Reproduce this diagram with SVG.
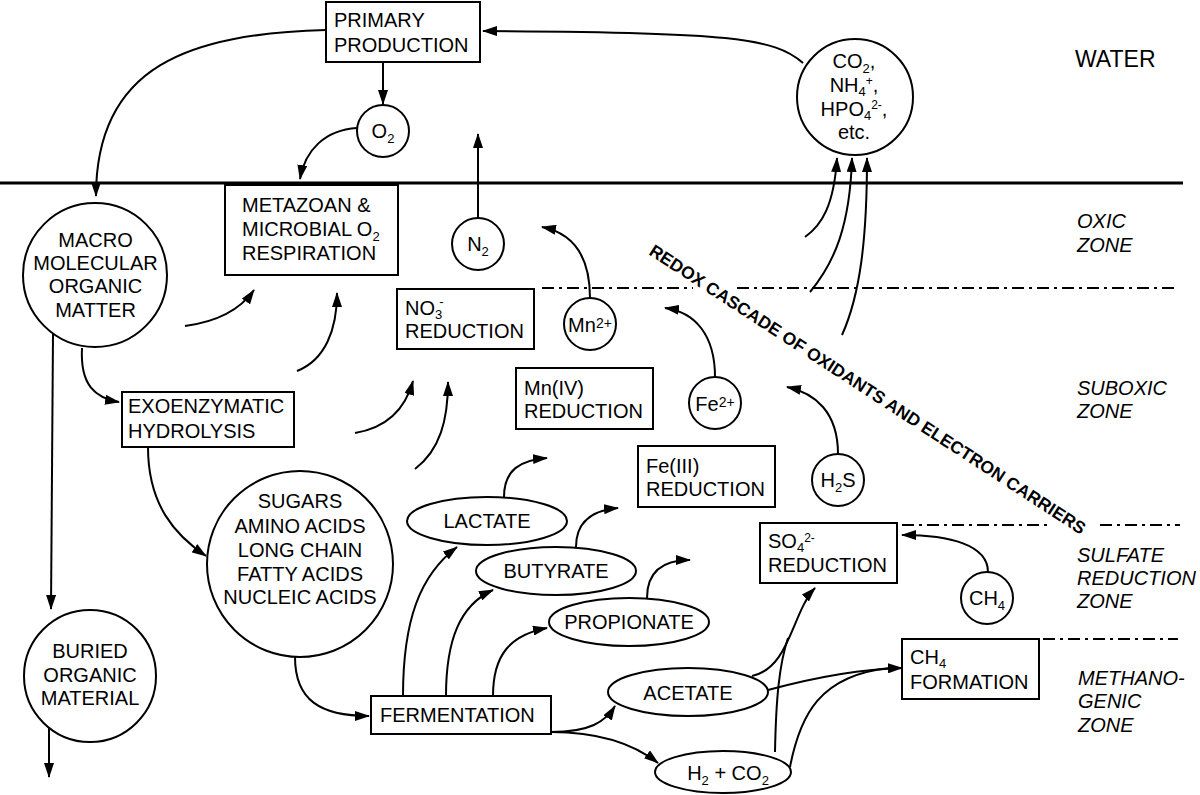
<svg xmlns="http://www.w3.org/2000/svg" width="1200" height="795" viewBox="0 0 1200 795">
<style>
text{font-family:"Liberation Sans",Arial,sans-serif;font-size:20px;fill:#000}
.m{text-anchor:middle}
.z{font-style:italic}
.s{font-size:13px}
.p{font-size:12px}
.box{fill:#fff;stroke:#000;stroke-width:2}
.a{fill:none;stroke:#000;stroke-width:2;marker-end:url(#ah)}
.l{fill:none;stroke:#000;stroke-width:2}
.dd{fill:none;stroke:#000;stroke-width:2;stroke-dasharray:12 5 3 5}
.redox{font-weight:bold;font-size:17.5px}
</style>
<defs>
<marker id="ah" viewBox="0 0 15 10" refX="14" refY="5" markerWidth="15" markerHeight="10" markerUnits="userSpaceOnUse" orient="auto">
<path d="M0,0 L15,5 L0,10 z" fill="#000"/>
</marker>
</defs>
<rect width="1200" height="795" fill="#fff"/>

<g id="boundaries">
<line x1="0" y1="183" x2="1183" y2="183" stroke="#000" stroke-width="3"/>
<line class="dd" x1="542" y1="288" x2="693" y2="288"/>
<line class="dd" x1="737" y1="288" x2="1177" y2="288"/>
<line class="dd" x1="902" y1="525" x2="1047" y2="525"/>
<line class="dd" x1="1100" y1="525" x2="1180" y2="525"/>
<line class="dd" x1="1043" y1="639" x2="1178" y2="639"/>
</g>

<g id="labels">
<text x="1075" y="67" style="font-size:23px">WATER</text>
<text class="z" x="1077" y="228">OXIC</text>
<text class="z" x="1077" y="252">ZONE</text>
<text class="z" x="1077" y="395">SUBOXIC</text>
<text class="z" x="1077" y="418">ZONE</text>
<text class="z" x="1077" y="562">SULFATE</text>
<text class="z" x="1077" y="585">REDUCTION</text>
<text class="z" x="1077" y="608">ZONE</text>
<text class="z" x="1078" y="685">METHANO-</text>
<text class="z" x="1078" y="708">GENIC</text>
<text class="z" x="1078" y="732">ZONE</text>
<text class="redox" transform="translate(648,254) rotate(33)" textLength="516" lengthAdjust="spacingAndGlyphs">REDOX CASCADE OF OXIDANTS AND ELECTRON CARRIERS</text>
</g>

<g id="connectors">
<path class="a" d="M326,30 C190,34 96,65 96,196"/>
<path class="a" d="M383,63 L383,104"/>
<path class="a" d="M357,128 C325,130 305,150 300,179"/>
<path class="a" d="M803,63 C775,38 730,32 483,31"/>
<path class="a" d="M478,218 L478,134"/>
<path class="a" d="M805,237 C822,225 834,205 837,158"/>
<path class="a" d="M810,292 C835,262 850,225 852,158"/>
<path class="a" d="M842,335 C860,295 867,240 867,158"/>
<path class="a" d="M82,348 C80,385 95,398 119,402"/>
<path class="a" d="M53,334 L51,609"/>
<path class="a" d="M49,728 L49,777"/>
<path class="a" d="M148,447 C148,505 175,535 206,556"/>
<path class="a" d="M295,657 C295,700 320,716 369,716"/>
<path class="a" d="M185,326 C215,322 240,310 254,290"/>
<path class="a" d="M297,371 C325,360 337,330 337,293"/>
<path class="a" d="M355,433 C385,428 405,410 413,381"/>
<path class="a" d="M415,469 C440,450 448,420 448,382"/>
<path class="a" d="M590,298 C590,255 572,233 542,227"/>
<path class="a" d="M715,377 C715,335 695,312 665,308"/>
<path class="a" d="M838,454 C838,412 815,393 787,387"/>
<path class="a" d="M988,572 C988,545 950,535 902,535"/>
<path class="a" d="M504,497 C504,470 520,460 547,458"/>
<path class="a" d="M576,547 C576,520 595,510 618,508"/>
<path class="a" d="M647,598 C647,570 665,560 690,560"/>
<path class="a" d="M403,696 C403,620 420,575 457,547"/>
<path class="a" d="M446,696 C446,640 460,605 493,590"/>
<path class="a" d="M493,696 C493,655 510,635 547,628"/>
<path class="a" d="M551,732 C590,732 605,722 615,706"/>
<path class="a" d="M551,732 C600,732 635,745 658,763"/>
<path class="a" d="M752,676 C790,668 792,612 815,588"/>
<path class="l" d="M775,752 C776,700 779,665 788,638"/>
<path class="a" d="M768,690 C820,676 860,669 902,668"/>
<path class="l" d="M790,767 C800,715 820,675 890,668"/>
</g>

<g id="primary-production">
<rect class="box" x="326" y="2" width="154" height="60"/>
<text x="334" y="27">PRIMARY</text>
<text x="334" y="52">PRODUCTION</text>
</g>

<g id="o2">
<circle class="box" cx="383" cy="131" r="26"/>
<text class="m" x="383" y="138">O<tspan class="s" dy="5">2</tspan></text>
</g>

<g id="nutrients">
<circle class="box" cx="855" cy="97" r="58"/>
<text class="m" x="854" y="68">CO<tspan class="s" dy="5">2</tspan><tspan dy="-5">,</tspan></text>
<text class="m" x="854" y="92">NH<tspan class="s" dy="4">4</tspan><tspan class="p" dy="-11">+</tspan><tspan dy="7">,</tspan></text>
<text class="m" x="854" y="116">HPO<tspan class="s" dy="4">4</tspan><tspan class="p" dy="-11">2-</tspan><tspan dy="7">,</tspan></text>
<text class="m" x="854" y="139">etc.</text>
</g>

<g id="macro">
<circle class="box" cx="95" cy="275" r="72"/>
<text class="m" x="95.5" y="247">MACRO</text>
<text class="m" x="95.5" y="270">MOLECULAR</text>
<text class="m" x="95.5" y="293">ORGANIC</text>
<text class="m" x="95.5" y="317">MATTER</text>
</g>

<g id="metazoan">
<rect class="box" x="225" y="185" width="173" height="90"/>
<text x="242" y="212">METAZOAN &amp;</text>
<text x="242" y="236">MICROBIAL O<tspan class="s" dy="5">2</tspan></text>
<text x="242" y="260">RESPIRATION</text>
</g>

<g id="n2">
<circle class="box" cx="478" cy="244" r="26"/>
<text class="m" x="478" y="251">N<tspan class="s" dy="5">2</tspan></text>
</g>

<g id="no3-reduction">
<rect class="box" x="397" y="289" width="137" height="60"/>
<text x="405" y="315">NO<tspan class="s" dy="4">3</tspan><tspan class="s" dx="-3" dy="-13">-</tspan></text>
<text x="405" y="338">REDUCTION</text>
</g>

<g id="mn2">
<circle class="box" cx="590" cy="324" r="26"/>
<text class="m" x="590" y="332">Mn<tspan style="font-size:14px" dy="-4">2+</tspan></text>
</g>

<g id="mn4-reduction">
<rect class="box" x="516" y="368" width="137" height="61"/>
<text x="524" y="395">Mn(IV)</text>
<text x="524" y="418">REDUCTION</text>
</g>

<g id="fe2">
<circle class="box" cx="715" cy="403" r="26"/>
<text class="m" x="715" y="411">Fe<tspan style="font-size:14px" dy="-4">2+</tspan></text>
</g>

<g id="fe3-reduction">
<rect class="box" x="638" y="446" width="137" height="61"/>
<text x="646" y="473">Fe(III)</text>
<text x="646" y="496">REDUCTION</text>
</g>

<g id="h2s">
<circle class="box" cx="838" cy="480" r="26"/>
<text class="m" x="838" y="487">H<tspan class="s" dy="5">2</tspan><tspan dy="-5">S</tspan></text>
</g>

<g id="exoenzymatic">
<rect class="box" x="122" y="392" width="172" height="55"/>
<text x="128" y="413">EXOENZYMATIC</text>
<text x="128" y="438">HYDROLYSIS</text>
</g>

<g id="sugars">
<circle class="box" cx="300" cy="564" r="93"/>
<text class="m" x="300" y="508">SUGARS</text>
<text class="m" x="300" y="533">AMINO ACIDS</text>
<text class="m" x="300" y="557">LONG CHAIN</text>
<text class="m" x="300" y="581">FATTY ACIDS</text>
<text class="m" x="300" y="604">NUCLEIC ACIDS</text>
</g>

<g id="buried">
<circle class="box" cx="90" cy="676" r="66"/>
<text class="m" x="90" y="658">BURIED</text>
<text class="m" x="90" y="682">ORGANIC</text>
<text class="m" x="90" y="705">MATERIAL</text>
</g>

<g id="lactate">
<ellipse class="box" cx="487" cy="521" rx="80" ry="24"/>
<text class="m" x="487" y="528">LACTATE</text>
</g>

<g id="butyrate">
<ellipse class="box" cx="556" cy="571" rx="80" ry="24"/>
<text class="m" x="556" y="578">BUTYRATE</text>
</g>

<g id="propionate">
<ellipse class="box" cx="629" cy="622" rx="80" ry="24"/>
<text class="m" x="629" y="629">PROPIONATE</text>
</g>

<g id="acetate">
<ellipse class="box" cx="688" cy="692" rx="80" ry="24"/>
<text class="m" x="688" y="700">ACETATE</text>
</g>

<g id="h2-co2">
<ellipse class="box" cx="723" cy="772" rx="68" ry="21"/>
<text class="m" x="728" y="780">H<tspan class="s" dy="5">2</tspan><tspan dy="-5"> + CO</tspan><tspan class="s" dy="5">2</tspan></text>
</g>

<g id="fermentation">
<rect class="box" x="371" y="696" width="180" height="38"/>
<text x="380" y="722">FERMENTATION</text>
</g>

<g id="so4-reduction">
<rect class="box" x="760" y="523" width="137" height="60"/>
<text x="768" y="548">SO<tspan class="s" dy="4">4</tspan><tspan class="p" dy="-10">2-</tspan></text>
<text x="768" y="572">REDUCTION</text>
</g>

<g id="ch4">
<circle class="box" cx="987" cy="598" r="26"/>
<text class="m" x="987" y="605">CH<tspan class="s" dy="5">4</tspan></text>
</g>

<g id="ch4-formation">
<rect class="box" x="902" y="639" width="137" height="60"/>
<text x="910" y="664">CH<tspan class="s" dy="4">4</tspan></text>
<text x="910" y="689">FORMATION</text>
</g>
</svg>
